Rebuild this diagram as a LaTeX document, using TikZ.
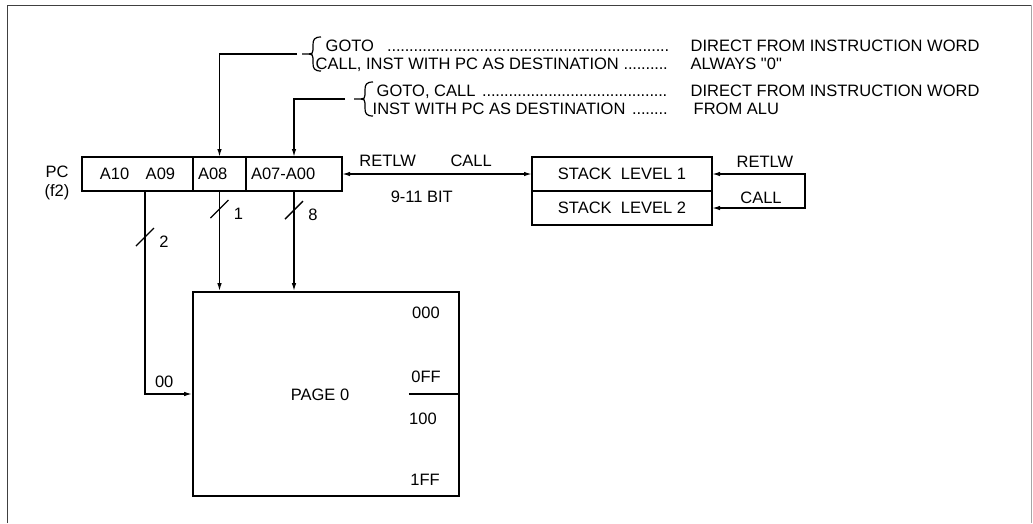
\documentclass[tikz,border=0pt]{standalone}
\usepackage{fontspec}
\setmainfont{Liberation Sans}
\usetikzlibrary{positioning,calc,arrows.meta}
\newcommand{\dotlead}[2]{\hbox to #1{#2\leaders\hbox to 4.4pt{\hss.\hss}\hfill}}
\font\quotefnt="Liberation Sans" at 16.5pt

\begin{document}
\begin{tikzpicture}[x=1pt,y=-1pt,>={Latex[length=8pt,width=4.5pt]},line width=1.4pt,
  font=\fontsize{16.5}{19.5}\selectfont,
  cell/.style={draw,line width=1.6pt,outer sep=0pt,minimum height=34pt,inner xsep=5pt},
  lead/.style={anchor=base west,inner sep=0pt}]
 \useasboundingbox (0,0) rectangle (1033,523);
 \draw[black!75,line width=1pt] (7,523)--(7,5)--(1031,5);
 \draw[black!35,line width=1pt] (1031,5)--(1031,523);
 % program counter
 \node[cell,minimum width=111pt] (a1009) at (137.5,174) {A10\quad A09};
 \node[cell,right=0pt of a1009,text width=43pt,align=left] (a08) {A08};
 \node[cell,right=0pt of a08,text width=86pt,align=left] (a0700) {A07-A00};
 \node[align=center] (pc) at (57,183) {PC\\(f2)};
 % stack
 \node[cell,minimum width=180pt] (stack1) at (622,174) {STACK\ \ LEVEL 1};
 \node[cell,minimum width=180pt,below=0pt of stack1] (stack2) {STACK\ \ LEVEL 2};
 % program memory page
 \node[draw,line width=1.6pt,minimum width=266pt,minimum height=204pt] (page) at (326,394) {};
 \node (pagename) at (320,395) {PAGE 0};
 \node (adr000) at (426,313) {000};
 \node (adr0ff) at (426,377) {0FF};
 \node (adr100) at (423,419) {100};
 \node (adr1ff) at (425,480) {1FF};
 \draw ([xshift=-51pt]page.east) -- (page.east);
 % where the bits come from
 \coordinate (src08) at (297,54);
 \coordinate (src0700) at (345,99);
 \draw[->] (src08) -| (a08.north);
 \draw[->] (src0700) -| (a0700.north);
 \foreach \bx/\by in {313/54,365/99}{
   \draw[line width=1.2pt] (\bx+8,\by-17) .. controls (\bx+1,\by-17) and (\bx,\by-14) .. (\bx,\by-9) -- (\bx,\by-4) .. controls (\bx,\by-1) and (\bx-1,\by) .. (\bx-4,\by) -- (\bx-11,\by);
   \draw[line width=1.2pt] (\bx-4,\by) .. controls (\bx-1,\by) and (\bx,\by+1) .. (\bx,\by+4) -- (\bx,\by+9) .. controls (\bx,\by+14) and (\bx+1,\by+17) .. (\bx+8,\by+17);
 }
 \node[lead] (goto) at (325,51) {\dotlead{347pt}{GOTO\ \ }};
 \node[lead] (callinst) at (315,69) {\dotlead{355pt}{CALL, INST WITH PC AS DESTINATION\ }};
 \node[lead] (gotocall) at (376,96) {\dotlead{294pt}{GOTO, CALL\ }};
 \node[lead] (inst) at (372,114) {\dotlead{296pt}{INST WITH PC AS DESTINATION\ }};
 \node[lead] (direct1) at (690,51) {DIRECT FROM INSTRUCTION WORD};
 \node[lead] (always) at (690,69) {ALWAYS {\quotefnt"}0{\quotefnt"}};
 \node[lead] (direct2) at (690,96) {DIRECT FROM INSTRUCTION WORD};
 \node[lead] (alu) at (693,114) {FROM ALU};
 % address lines down to the page
 \draw[->] ([xshift=7.5pt]a1009.south) |- (page.west) node[pos=.5,above right=2pt and 6pt] (zero) {00};
 \draw[->] (a08.south) -- (a08.south |- page.north);
 \draw[->] (a0700.south) -- (a0700.south |- page.north);
 \foreach \sx/\sy/\bits in {145/237/2,219.5/209/1,294/210/8}{
   \draw (\sx-9,\sy+9) -- (\sx+9,\sy-9);
   \node (bits\bits) at (\sx+19,\sy+5) {\bits};
 }
 % stack link
 \draw[<->] (a0700.east) -- (stack1.west) node[pos=.24,above=3pt] (retlw1) {RETLW}
   node[pos=.68,above=3pt] (call1) {CALL} node[pos=.42,below=13pt] (bitwidth) {9-11 BIT};
 \coordinate (loopx) at (805,0);
 \draw[<->] (stack1.east) -- (stack1.east -| loopx) -- (stack2.east -| loopx) -- (stack2.east);
 \node (retlw2) at (765,162) {RETLW};
 \node (call2) at (761,198) {CALL};
\end{tikzpicture}
\end{document}
